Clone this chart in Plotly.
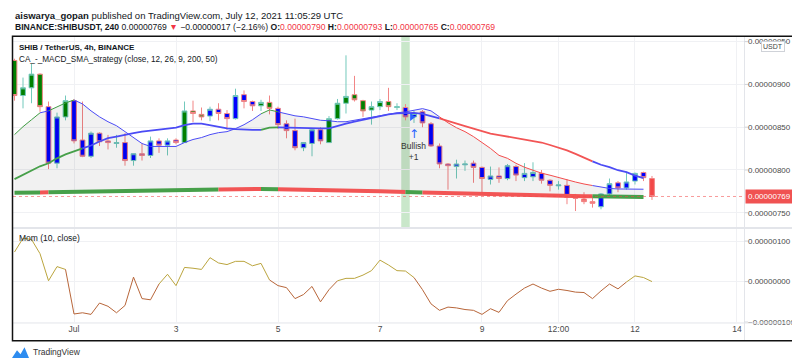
import plotly.graph_objects as go
from datetime import datetime, timedelta

# ---------------- data (price values in units of 0.00000001 USDT) ----------------
UNIT = 1e-8
bar_start = datetime(2021, 6, 29, 20, 0)   # first 4h bar
bar_hours = 4

opens = [928, 887, 896, 912, 874, 808, 862, 881, 835, 816,
         843, 834, 831, 832, 811, 819, 817, 834, 829, 835,
         832, 869, 865, 863, 871, 866, 860, 888, 880, 875,
         879, 872, 854, 846, 826, 831, 847, 832, 860, 878,
         888, 881, 870, 874, 880, 873, 873, 862, 868, 854,
         828, 807, 804, 806, 808, 803, 789, 793, 790, 804,
         791, 792, 796, 788, 781.5, 782, 768, 766, 763, 757,
         772, 785, 779, 787, 797, 790]
highs = [930, 908, 924, 913, 880, 867, 887, 883, 880, 845,
         844, 841, 841, 843, 819, 831, 839, 837, 837, 837,
         880, 881, 873, 874, 878, 870, 895, 893, 881, 882,
         887, 874, 858, 860, 832, 849, 850, 863, 883, 934,
         910, 882, 880, 883, 896, 878, 877, 869, 870, 856,
         831, 808, 812, 811, 811, 804, 804, 803, 807, 806,
         808, 809, 800, 789, 787, 789, 772, 774, 770, 773,
         790, 787, 798, 797, 798, 793]
lows = [881, 872, 878, 868, 801, 802, 858, 831, 815, 814,
        828, 824, 826, 805, 805, 811, 814, 820, 817, 830,
        832, 856, 858, 857, 858, 847, 859, 872, 869, 869,
        865, 848, 837, 823, 822, 816, 830, 832, 859, 866,
        880, 862, 853, 870, 869, 870, 858, 855, 850, 827,
        802, 777, 790, 799, 785, 772, 783, 785, 788, 787,
        787, 787, 784, 775, 777, 760, 752, 760, 756, 754,
        770, 774, 777, 783, 787, 765]
closes = [887, 896, 912, 874, 808, 862, 881, 834, 816, 843,
          833, 832, 832, 811, 819, 817, 834, 829, 834, 832,
          869, 866, 862, 871, 866, 860, 887, 880, 875, 879,
          872, 853, 846, 826, 832, 847, 834, 860, 878, 886,
          882, 869, 874, 880, 874, 874, 862, 866, 855, 828,
          807, 805, 807, 807, 803, 790, 793, 790, 805, 794,
          796, 797, 788, 782, 782.5, 768, 767, 763, 761, 772,
          784, 779, 786, 796, 791, 769]
# strategy state painted on each candle body: G = long, B = neutral, R = short
candle_state = (["G"] * 4 + ["B"] * 2 + ["G"] + ["B"] * 13 + ["G"] * 3 + ["B"] * 6 +
                ["G"] * 2 + ["B"] * 6 + ["G"] * 9 + ["B"] * 21 + ["R"] * 2 + ["B"] * 6 + ["R"])

fast_ma = [841.3, 850.6, 858.7, 866.8, 869.1, 873.7, 878.3, 881.8, 877.2, 869.1,
           862.1, 856.4, 851.7, 844.8, 837.9, 830.9, 827.5, 827.5, 827.5, 827.5,
           832.1, 835.6, 837.9, 841.3, 843.6, 844.8, 848.3, 852.9, 858.7, 865.6,
           870.2, 867.9, 865.6, 863.3, 862.1, 859.8, 858.1, 857.5, 856.4, 856.4,
           858.1, 859.8, 862.1, 863.9, 865.6, 866.8, 867.9, 870.2, 871.7, 869.1,
           862.1, 855.2, 849.4, 844.8, 839.0, 832.1, 825.2, 817.1, 813.6, 807.8,
           803.2, 799.7, 796.3, 793.9, 791.0, 788.2, 785.9, 783.6, 781.8, 780.1,
           778.4, 777.8, 777.5, 777.5, 777.5]
slow_ma = [789.3, 794.5, 799.7, 804.3, 807.8, 813.6, 818.2, 821.7, 825.2, 828.6,
           833.3, 837.1, 839.0, 841.3, 843.1, 844.8, 846.0, 847.1, 848.3, 849.4,
           852.5, 854.1, 854.1, 852.3, 850.6, 848.6, 847.7, 847.1, 846.8, 846.8,
           849.4, 849.8, 849.4, 849.1, 848.6, 848.6, 848.6, 848.6, 851.7, 854.1,
           856.4, 858.7, 861.0, 863.3, 865.0, 866.2, 866.8, 866.8, 865.6, 863.3,
           860.2, 856.9, 854.1, 851.2, 848.3, 845.4, 842.5, 840.8, 839.0, 837.3,
           835.6, 833.8, 832.1, 829.2, 826.3, 822.8, 818.8, 814.7, 810.1, 806.1,
           803.2, 799.7, 797.4, 793.4, 790.5]
ma200 = [773.5, 773.6, 773.7, 773.8, 773.9, 774.1, 774.2, 774.3, 774.4, 774.5,
         774.6, 774.7, 774.9, 775.1, 775.3, 775.6, 775.7, 775.9, 776.0, 776.3,
         776.4, 776.6, 776.8, 776.9, 777.2, 777.3, 777.4, 777.5, 777.6, 777.8,
         777.8, 777.6, 777.5, 777.4, 777.3, 777.2, 776.9, 776.7, 776.5, 776.3,
         776.0, 775.8, 775.6, 775.2, 774.9, 774.6, 774.3, 774.1, 773.8, 773.5,
         773.3, 773.0, 772.8, 772.6, 772.3, 772.0, 771.8, 771.5, 771.3, 771.1,
         770.8, 770.6, 770.4, 770.1, 769.9, 769.7, 769.6, 769.3, 769.2, 769.1,
         769.0, 768.9, 768.7, 768.6, 768.5]
# colour runs of the indicator lines: (first bar, last bar, state)
fast_runs = [(0, 3, "G"), (3, 4, "B"), (4, 7, "G"), (7, 29, "B"), (29, 31, "G"),
             (31, 50, "B"), (50, 68, "R"), (68, 74, "B")]
slow_runs = [(0, 8, "G"), (8, 29, "B"), (29, 31, "G"), (31, 50, "B"), (50, 68, "R"), (68, 74, "B")]
ma200_runs = [(0, 3, "G"), (3, 4, "R"), (4, 24, "G"), (24, 29, "R"), (29, 31, "G"),
              (31, 46, "R"), (46, 48, "G"), (48, 68, "R"), (68, 74, "G")]

momentum = [73, 107, 104, 69, 2, 37, 30, -80, -77, -81,
            -53, -61, -77, -59, 11, -42, -45, -6, 18, -10,
            35, 33, 30, 59, 46, 42, 50, 50, 39, 45,
            4, -10, -15, -42, -32, -12, -50, -20, 2, 8,
            8, 16, 27, 53, 41, 27, 26, 10, -20, -55,
            -71, -63, -65, -69, -71, -81, -67, -76, -47, -31,
            -16, -6, -16, -24, -19, -22, -26, -27, -42, -23,
            -6, -18, -1, 14, 10, 0]

signal_bar = 46          # highlighted bar
entry_bar = 47           # "Bullish +1" entry
last_price = 769
price_ticks = [750, 800, 850, 900, 950]
mom_ticks = [-100, 0, 100]
time_tick_dates = [datetime(2021, 7, 1), datetime(2021, 7, 3), datetime(2021, 7, 5),
                   datetime(2021, 7, 7), datetime(2021, 7, 9), datetime(2021, 7, 10, 12),
                   datetime(2021, 7, 12), datetime(2021, 7, 14)]
time_tick_text = ["Jul", "3", "5", "7", "9", "12:00", "12", "14"]

# ---------------- layout helpers ----------------
W, H = 800, 362
def px(p):
    return p / W
def py(p):
    return 1 - p / H

X_DOM = [px(5), px(736)]
Y_PRICE = [py(222), py(29)]
Y_MOM = [py(318), py(223)]

times = [bar_start + timedelta(hours=bar_hours * i) for i in range(len(opens))]
x_range = [bar_start - timedelta(hours=0.706), bar_start + timedelta(hours=343.3)]

FONT = "Arial"
LINE_COL = {"G": "#3f9c43", "B": "#4b4bf5", "R": "#f24c4c"}
THICK_COL = {"G": "#47a04a", "B": "#4b4bf5", "R": "#f25555"}
FILL_COL = {"G": "#008000", "B": "#0000ff", "R": "#f24848"}
UP_LINE, DOWN_LINE = "#73c9bc", "#f28585"
GRID = "#f0f1f4"

fig = go.Figure()

def sc(vals):
    return [v * UNIT for v in vals]

# grey fill between fast line and 200 line
n_ind = len(ma200)
fig.add_trace(go.Scatter(x=times[:n_ind], y=sc(ma200), mode="lines", line=dict(width=0),
                         xaxis="x2", yaxis="y2", hoverinfo="skip", showlegend=False))
fig.add_trace(go.Scatter(x=times[:n_ind], y=sc(fast_ma), mode="lines", line=dict(width=0),
                         fill="tonexty", fillcolor="rgba(0,0,0,0.055)",
                         xaxis="x2", yaxis="y2", hoverinfo="skip", showlegend=False))

def add_runs(values, runs, palette, width):
    for a, b, st in runs:
        fig.add_trace(go.Scatter(x=times[a:b + 1], y=sc(values[a:b + 1]), mode="lines",
                                 line=dict(color=palette[st], width=width),
                                 xaxis="x2", yaxis="y2", hoverinfo="skip", showlegend=False))

add_runs(ma200, ma200_runs, THICK_COL, 4)
add_runs(slow_ma, slow_runs, THICK_COL, 1.8)
add_runs(fast_ma, fast_runs, LINE_COL, 1)

# candles grouped by direction and painted state
groups = {}
for i in range(len(opens)):
    key = (closes[i] > opens[i], candle_state[i])
    groups.setdefault(key, []).append(i)
for (up, st), idx in groups.items():
    lc = UP_LINE if up else DOWN_LINE
    style = dict(line=dict(color=lc, width=1), fillcolor=FILL_COL[st])
    fig.add_trace(go.Candlestick(
        x=[times[i] for i in idx], open=sc([opens[i] for i in idx]),
        high=sc([highs[i] for i in idx]), low=sc([lows[i] for i in idx]),
        close=sc([closes[i] for i in idx]), increasing=style, decreasing=style,
        whiskerwidth=0, xaxis="x2", yaxis="y2", hoverinfo="skip", showlegend=False))

# entry marker
fig.add_trace(go.Scatter(x=[times[entry_bar] - timedelta(hours=1)], y=[opens[entry_bar] * UNIT],
                         mode="markers", marker=dict(symbol="triangle-right", size=7, color="#2962ff"),
                         xaxis="x2", yaxis="y2", hoverinfo="skip", showlegend=False))

# momentum line coloured by sign
for i in range(len(momentum) - 1):
    col = "#bba53e" if momentum[i] + momentum[i + 1] >= 0 else "#b8663a"
    fig.add_trace(go.Scatter(x=times[i:i + 2], y=sc(momentum[i:i + 2]), mode="lines",
                             line=dict(color=col, width=1), xaxis="x", yaxis="y",
                             hoverinfo="skip", showlegend=False))

shapes = [
    dict(type="rect", xref="x2", yref="paper",
         x0=times[signal_bar] - timedelta(hours=2), x1=times[signal_bar] + timedelta(hours=2),
         y0=Y_PRICE[0], y1=Y_PRICE[1], fillcolor="rgba(76,175,80,0.3)", line=dict(width=0),
         layer="between"),
    dict(type="line", xref="paper", yref="y2", x0=X_DOM[0], x1=X_DOM[1],
         y0=last_price * UNIT, y1=last_price * UNIT,
         line=dict(color="rgba(242,72,72,0.55)", width=1, dash="dot")),
    dict(type="line", xref="paper", yref="paper", x0=px(4.5), x1=px(795.5), y0=py(222.5), y1=py(222.5),
         line=dict(color="#e3e5ea", width=2)),
    dict(type="line", xref="paper", yref="paper", x0=px(4.5), x1=px(795.5), y0=py(318.5), y1=py(318.5),
         line=dict(color="#e3e5ea", width=1)),
    dict(type="line", xref="paper", yref="paper", x0=px(736.5), x1=px(736.5), y0=py(28.5), y1=py(336.5),
         line=dict(color="#e3e5ea", width=1)),
    dict(type="rect", xref="paper", yref="paper", x0=px(4.5), x1=px(795.5), y0=py(336.5), y1=py(28.5),
         line=dict(color="#111111", width=1.5), fillcolor="rgba(0,0,0,0)"),
    dict(type="path", xref="paper", yref="paper",
         path=f"M {px(4)},{py(354)} L {px(9)},{py(346)} L {px(12.5)},{py(350)} "
              f"L {px(16.5)},{py(343)} L {px(21)},{py(354)} Z",
         fillcolor="#2d8cf0", line=dict(width=0)),
]
# small tick marks next to the right-hand price/momentum labels
for v in price_ticks:
    shapes.append(dict(type="line", xref="paper", yref="y2", x0=px(736.5), x1=px(740),
                       y0=v * UNIT, y1=v * UNIT, line=dict(color="#cfd2d8", width=1)))
for v in mom_ticks:
    shapes.append(dict(type="line", xref="paper", yref="y", x0=px(736.5), x1=px(740),
                       y0=v * UNIT, y1=v * UNIT, line=dict(color="#cfd2d8", width=1)))

RED = "#f23645"
annotations = [
    dict(xref="paper", yref="paper", x=px(5), y=py(8), xanchor="left", yanchor="middle",
         text="<b>aiswarya_gopan</b> published on TradingView.com, July 12, 2021 11:05:29 UTC",
         showarrow=False, font=dict(family=FONT, size=9.5, color="#131722")),
    dict(xref="paper", yref="paper", x=px(5), y=py(19), xanchor="left", yanchor="middle",
         text=(f"<b>BINANCE:SHIBUSDT, 240</b> 0.00000769 <span style='color:{RED}'>▼</span> "
               f"−0.00000017 (−2.16%) <b>O:</b><span style='color:{RED}'>0.00000790</span> "
               f"<b>H:</b><span style='color:{RED}'>0.00000793</span> "
               f"<b>L:</b><span style='color:{RED}'>0.00000765</span> "
               f"<b>C:</b><span style='color:{RED}'>0.00000769</span>"),
         showarrow=False, font=dict(family=FONT, size=8.6, color="#131722")),
    dict(xref="paper", yref="paper", x=px(9), y=py(40), xanchor="left", yanchor="middle",
         text="<b>SHIB / TetherUS, 4h, BINANCE</b>", showarrow=False,
         font=dict(family=FONT, size=8, color="#131722")),
    dict(xref="paper", yref="paper", x=px(9), y=py(52), xanchor="left", yanchor="middle",
         text="CA_-_MACD_SMA_strategy (close, 12, 26, 9, 200, 50)", showarrow=False,
         font=dict(family=FONT, size=8.2, color="#131722")),
    dict(xref="paper", yref="paper", x=px(9), y=py(233), xanchor="left", yanchor="middle",
         text="Mom (10, close)", showarrow=False, font=dict(family=FONT, size=8.5, color="#131722")),
    dict(xref="paper", yref="paper", x=px(23), y=py(348), xanchor="left", yanchor="middle",
         text="TradingView", showarrow=False, font=dict(family=FONT, size=8.5, color="#333333")),
    dict(xref="paper", yref="y2", x=px(737), y=last_price * UNIT, xanchor="left", yanchor="middle",
         text="0.00000769", showarrow=False, bgcolor="#f05252", borderpad=2,
         font=dict(family=FONT, size=8, color="white")),
    dict(xref="paper", yref="paper", x=px(765), y=py(39), xanchor="center", yanchor="middle",
         text="USDT", showarrow=False, bgcolor="white", bordercolor="#cfd2d8", borderwidth=1,
         borderpad=1, font=dict(family=FONT, size=7, color="#444")),
    dict(xref="x2", yref="y2", x=times[entry_bar], y=842.5 * UNIT, text="↑", showarrow=False,
         font=dict(family="DejaVu Sans", size=12, color="#2962ff"), yanchor="middle"),
    dict(xref="x2", yref="y2", x=times[entry_bar], y=821 * UNIT, text="Bullish<br>+1",
         showarrow=False, font=dict(family=FONT, size=8.5, color="#333333"), yanchor="middle"),
]

axis_font = dict(family=FONT, size=8, color="#4a4a4a")
fig.update_layout(
    width=W, height=H, margin=dict(l=0, r=0, t=0, b=0),
    paper_bgcolor="white", plot_bgcolor="white", showlegend=False,
    boxgap=0.2, shapes=shapes, annotations=annotations,
    xaxis=dict(domain=X_DOM, anchor="y", range=x_range, type="date",
               tickvals=time_tick_dates, ticktext=time_tick_text, tickfont=dict(family=FONT, size=8.5, color="#4a4a4a"),
               ticks="", showgrid=True, gridcolor=GRID, zeroline=False, showline=False,
               rangeslider=dict(visible=False), fixedrange=True),
    xaxis2=dict(domain=X_DOM, anchor="y2", matches="x", type="date", showticklabels=False,
                tickvals=time_tick_dates, showgrid=True, gridcolor=GRID, zeroline=False,
                showline=False, rangeslider=dict(visible=False)),
    yaxis=dict(domain=Y_MOM, anchor="x", side="right", range=[-1.01e-6, 1.31e-6],
               tickvals=[v * UNIT for v in mom_ticks], tickformat=".8f", tickfont=axis_font,
               ticks="", showgrid=True, gridcolor=GRID, zeroline=False, showline=False,
               ticklabelstandoff=3),
    yaxis2=dict(domain=Y_PRICE, anchor="x2", side="right", range=[732.7 * UNIT, 955.8 * UNIT],
                tickvals=[v * UNIT for v in price_ticks], tickformat=".8f", tickfont=axis_font,
                ticks="", showgrid=True, gridcolor=GRID, zeroline=False, showline=False,
                ticklabelstandoff=3),
)

fig.write_html("out.html")
